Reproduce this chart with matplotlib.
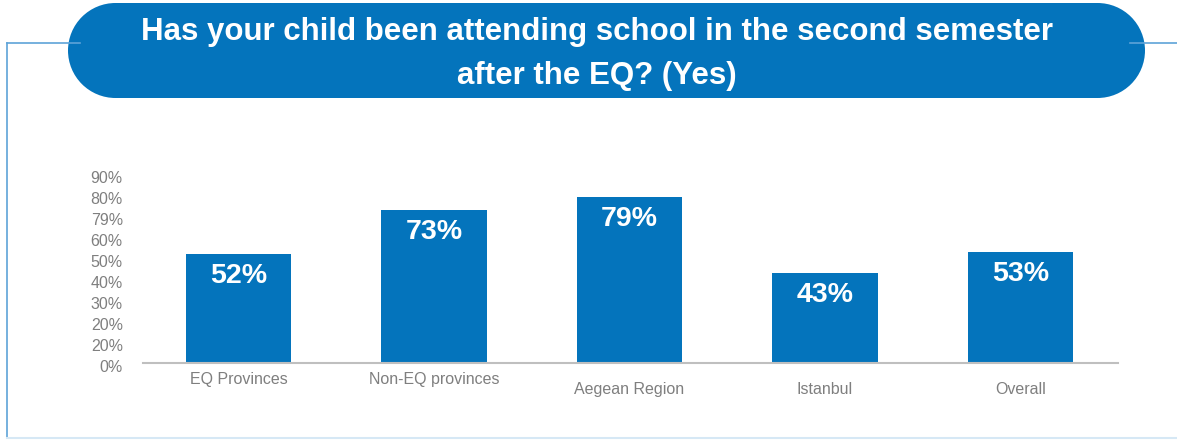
import matplotlib
matplotlib.use("Agg")
import matplotlib.pyplot as plt
from matplotlib.patches import Rectangle, Circle
from matplotlib.transforms import ScaledTranslation

# Data
categories = ["EQ Provinces", "Non-EQ provinces", "Aegean Region", "Istanbul", "Overall"]
values = [52, 73, 79, 43, 53]
value_labels = ["52%", "73%", "79%", "43%", "53%"]
tick_values = [0, 10, 20, 30, 40, 50, 60, 70, 80, 90]
tick_labels = ["0%", "20%", "20%", "30%", "40%", "50%", "60%", "79%", "80%", "90%"]
title_text = "Has your child been attending school in the second semester\nafter the EQ? (Yes)"

BLUE = "#0474BC"
GRAY = "#7F7F7F"
FONT = "Liberation Sans"

W, H = 1177, 441
fig = plt.figure(figsize=(W / 100, H / 100), dpi=100)

# Background layer in pixel coordinates for the frame and title pill
bg = fig.add_axes([0, 0, 1, 1])
bg.set_xlim(0, W)
bg.set_ylim(H, 0)
bg.axis("off")

frame_col = "#5EA3D8"
bg.plot([7, 7], [43, 438], color=frame_col, lw=1.2)
bg.plot([7, 80], [43, 43], color=frame_col, lw=1.2)
bg.plot([1130, W], [43, 43], color=frame_col, lw=1.2)
bg.plot([7, W], [438, 438], color="#D6E8F5", lw=1.5)

# Title pill: a rectangle capped by two half circles
px0, px1, py0, py1 = 68, 1145, 3, 98
r = (py1 - py0) / 2
bg.add_patch(Rectangle((px0 + r, py0), (px1 - px0) - 2 * r, py1 - py0,
                       facecolor=BLUE, edgecolor="none"))
bg.add_patch(Circle((px0 + r, py0 + r), r, facecolor=BLUE, edgecolor="none"))
bg.add_patch(Circle((px1 - r, py0 + r), r, facecolor=BLUE, edgecolor="none"))
bg.text(597, 54, title_text, ha="center", va="center", color="white",
        fontsize=22.5, fontweight="bold", family=FONT, linespacing=1.6)

# Bar chart
ax = fig.add_axes([143 / W, 78 / H, (1118 - 143) / W, 189 / H])
x = list(range(len(categories)))
bars = ax.bar(x, values, width=0.54, color=BLUE)
ax.set_xlim(-0.49, 4.5)
ax.set_ylim(0, 90)

for b, v, lab in zip(bars, values, value_labels):
    ax.annotate(lab, (b.get_x() + b.get_width() / 2, v), xytext=(0, -16),
                textcoords="offset points", ha="center", va="center",
                color="white", fontsize=20.5, fontweight="bold", family=FONT)

ax.set_yticks(tick_values)
ax.set_yticklabels(tick_labels, family=FONT, fontsize=11.5, color=GRAY)
ax.tick_params(axis="y", length=0, pad=14.5)
shift = ScaledTranslation(0, -3 / 100, fig.dpi_scale_trans)
for t in ax.get_yticklabels():
    t.set_transform(t.get_transform() + shift)

ax.set_xticks(x)
ax.set_xticklabels(categories, family=FONT, fontsize=11.5, color=GRAY)
ax.tick_params(axis="x", length=0)
pads = [6.5, 6.5, 13.5, 13.5, 13.5]
for tk, p in zip(ax.xaxis.get_major_ticks(), pads):
    tk.set_pad(p)

for s in ["top", "right", "left"]:
    ax.spines[s].set_visible(False)
ax.spines["bottom"].set_color("#BFBFBF")
ax.spines["bottom"].set_linewidth(1.5)

fig.savefig("out.png", dpi=100)
